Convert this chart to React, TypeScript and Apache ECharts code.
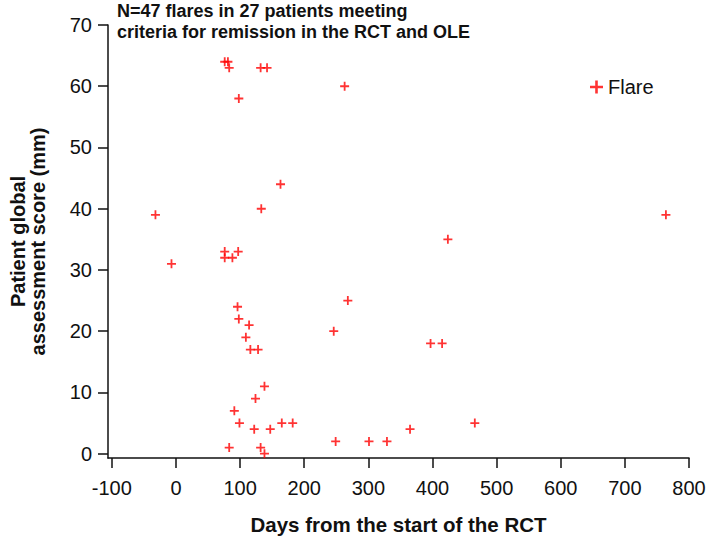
import React, { useEffect, useRef } from "react";
import * as echarts from "echarts";

const days: number[] = [
  76, 81, 83, 132, 142, 263, 98, 163, 133, 764, 424, 76, 97, 76, 88, 268, 96, 98, 114, 246,
  109, 116, 128, 397, 415, 138, 124, 91, 99, 122, 147, 165, 182, 365, 466, 83, 132, 138, 249,
  301, 329, -32, -7,
];
const scores: number[] = [
  64, 64, 63, 63, 63, 60, 58, 44, 40, 39, 35, 33, 33, 32, 32, 25, 24, 22, 21, 20,
  19, 17, 17, 18, 18, 11, 9, 7, 5, 4, 4, 5, 5, 4, 5, 1, 1, 0, 2,
  2, 2, 39, 31,
];
const xTicks: number[] = [-100, 0, 100, 200, 300, 400, 500, 600, 700, 800];
const yTicks: number[] = [0, 10, 20, 30, 40, 50, 60, 70];

const titleText = "N=47 flares in 27 patients meeting\ncriteria for remission in the RCT and OLE";
const xName = "Days from the start of the RCT";
const yName = "Patient global\nassessment score (mm)";
const seriesName = "Flare";

const FONT = "'Liberation Sans', Arial, Helvetica, sans-serif";
const PLUS = "path://M0,4H4V0H6V4H10V6H6V10H4V6H0Z";

export default function App() {
  const ref = useRef<HTMLDivElement>(null);
  useEffect(() => {
    if (!ref.current) return;
    const chart = echarts.init(ref.current, null, { renderer: "svg" });
    const data = days.map((d, i) => [d, scores[i]]);
    chart.setOption({
      animation: false,
      backgroundColor: "#ffffff",
      textStyle: { fontFamily: FONT },
      title: {
        text: titleText,
        left: 117,
        top: 1,
        padding: 0,
        textStyle: {
          fontFamily: FONT,
          fontSize: 18,
          fontWeight: "bold",
          color: "#111",
          lineHeight: 20.5,
        },
      },
      legend: {
        data: [{ name: seriesName, icon: PLUS }],
        left: 590,
        top: 77,
        padding: 0,
        itemWidth: 13,
        itemHeight: 13,
        itemGap: 7,
        textStyle: { fontFamily: FONT, fontSize: 20, color: "#111" },
      },
      grid: { left: 108, right: 20, top: 25, bottom: 79, containLabel: false },
      xAxis: {
        type: "value",
        min: -106,
        max: 800,
        name: xName,
        nameLocation: "middle",
        nameGap: 56,
        nameTextStyle: { fontFamily: FONT, fontSize: 20.5, fontWeight: "bold", color: "#111" },
        axisLine: { show: true, onZero: false, lineStyle: { color: "#111", width: 1.5 } },
        axisTick: { show: true, length: 10, lineStyle: { color: "#111", width: 1.5 }, customValues: xTicks },
        axisLabel: { margin: 20, fontSize: 20, color: "#111", fontFamily: FONT, customValues: xTicks },
        splitLine: { show: false },
      },
      yAxis: {
        type: "value",
        min: -0.7,
        max: 70,
        name: yName,
        nameLocation: "middle",
        nameRotate: 90,
        nameGap: 60,
        nameTextStyle: {
          fontFamily: FONT,
          fontSize: 20,
          fontWeight: "bold",
          color: "#111",
          lineHeight: 20,
        },
        axisLine: { show: true, onZero: false, lineStyle: { color: "#111", width: 1.5 } },
        axisTick: { show: true, length: 10, lineStyle: { color: "#111", width: 1.5 }, customValues: yTicks },
        axisLabel: { margin: 16, fontSize: 20, color: "#111", fontFamily: FONT, customValues: yTicks },
        splitLine: { show: false },
      },
      series: [
        {
          name: seriesName,
          type: "scatter",
          data,
          symbol: PLUS,
          symbolSize: 9,
          itemStyle: { color: "#ff0000" },
        },
      ],
    });
    return () => chart.dispose();
  }, []);
  return (
    <div
      ref={ref}
      style={{ position: "fixed", left: 0, top: 0, width: 709, height: 540, background: "#fff" }}
    />
  );
}
